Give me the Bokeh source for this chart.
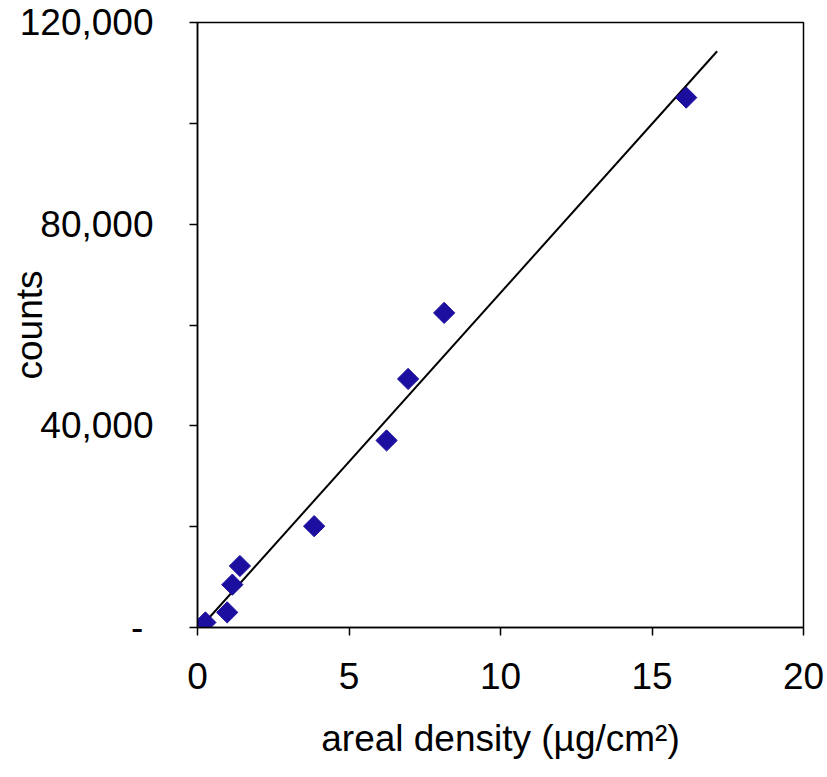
import math
from bokeh.plotting import figure
from bokeh.models import FixedTicker, Range1d
from bokeh.embed import file_html
from bokeh.resources import INLINE

# data
areal_density = [0.26, 0.98, 1.15, 1.40, 3.85, 6.24, 6.95, 8.14, 16.13]
counts = [1000, 3000, 8500, 12200, 20100, 37100, 49300, 62400, 105100]
fit_x = [0.2, 17.15]
fit_y = [700, 114300]
x_ticks = [0, 5, 10, 15, 20]
y_ticks = [0, 40000, 80000, 120000]
y_minor = [20000, 60000, 100000]
y_tick_labels = {0: "-\u00a0", 40000: "40,000", 80000: "80,000", 120000: "120,000"}

FONT = "Liberation Sans"

p = figure(width=827, height=777, output_backend="svg", toolbar_location=None,
           x_range=Range1d(0, 20), y_range=Range1d(0, 120000),
           min_border_left=197, min_border_right=24, min_border_top=22, min_border_bottom=150)
p.grid.visible = False
p.outline_line_color = "black"
p.outline_line_width = 1.5
p.background_fill_color = "white"
p.border_fill_color = "white"

p.line(fit_x, fit_y, line_color="black", line_width=2)
p.scatter(areal_density, counts, marker="square", angle=math.pi / 4, size=15,
          fill_color="#1C0E9E", line_color="#1C0E9E")

xa = p.xaxis[0]
xa.ticker = FixedTicker(ticks=x_ticks)
xa.axis_label = "areal density (µg/cm²)"
ya = p.yaxis[0]
ya.ticker = FixedTicker(ticks=y_ticks, minor_ticks=y_minor)
ya.major_label_overrides = y_tick_labels
ya.axis_label = "counts"

for ax in (xa, ya):
    ax.axis_line_color = "black"
    ax.axis_line_width = 1.5
    ax.major_tick_in = 0
    ax.major_tick_out = 8
    ax.major_tick_line_color = "black"
    ax.major_tick_line_width = 1.5
    ax.major_label_text_font = FONT
    ax.major_label_text_font_size = "37px"
    ax.major_label_text_color = "black"
    ax.axis_label_text_font = FONT
    ax.axis_label_text_font_size = "37px"
    ax.axis_label_text_font_style = "normal"
    ax.axis_label_text_color = "black"

xa.minor_tick_line_color = None
ya.minor_tick_in = 0
ya.minor_tick_out = 8
ya.minor_tick_line_color = "black"
ya.minor_tick_line_width = 1.5
ya.major_label_standoff = 36
xa.major_label_standoff = 27
xa.axis_label_standoff = 26
ya.axis_label_standoff = -33

open("out.html", "w").write(file_html(p, INLINE))
